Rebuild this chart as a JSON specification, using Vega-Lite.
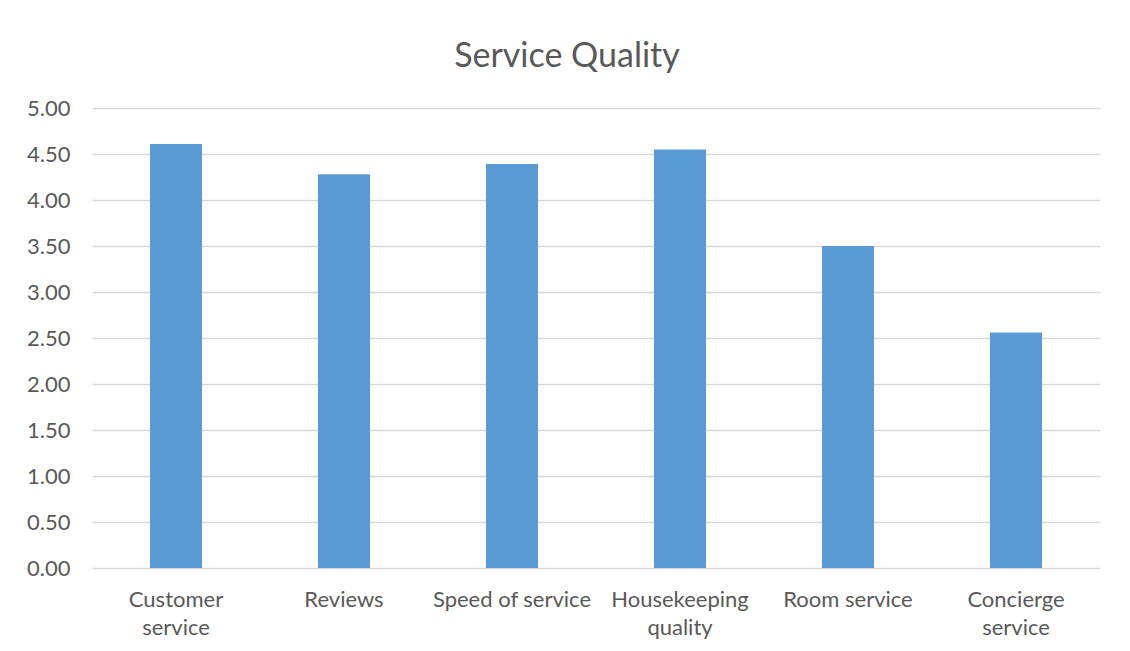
{
  "$schema": "https://vega.github.io/schema/vega-lite/v6.json",
  "autosize": {"type": "none"},
  "padding": {"left": 92, "top": 108, "right": 30, "bottom": 83},
  "width": 1008,
  "height": 460,
  "background": "white",
  "title": {
    "text": "Service Quality",
    "font": "Lato",
    "fontSize": 34,
    "fontWeight": "normal",
    "color": "#595959",
    "anchor": "middle",
    "baseline": "top",
    "offset": 23,
    "dx": -29
  },
  "data": {
    "values": [
      {"category": "Customer service", "score": 4.61},
      {"category": "Reviews", "score": 4.28},
      {"category": "Speed of service", "score": 4.39},
      {"category": "Housekeeping quality", "score": 4.55},
      {"category": "Room service", "score": 3.50},
      {"category": "Concierge service", "score": 2.56}
    ]
  },
  "mark": {"type": "bar", "color": "#5b9bd5"},
  "encoding": {
    "x": {
      "field": "category",
      "type": "nominal",
      "sort": null,
      "scale": {"paddingInner": 0.69, "paddingOuter": 0.345},
      "axis": {
        "title": null,
        "labelAngle": 0,
        "domain": false,
        "ticks": false,
        "labelFont": "Lato",
        "labelFontSize": 22,
        "labelColor": "#595959",
        "labelPadding": 21,
        "labelLineHeight": 28,
        "labelBaseline": "top",
        "labelExpr": "datum.value == 'Customer service' ? ['Customer', 'service'] : datum.value == 'Housekeeping quality' ? ['Housekeeping', 'quality'] : datum.value == 'Concierge service' ? ['Concierge', 'service'] : datum.value"
      }
    },
    "y": {
      "field": "score",
      "type": "quantitative",
      "scale": {"domain": [0, 5], "nice": false},
      "axis": {
        "title": null,
        "values": [0, 0.5, 1, 1.5, 2, 2.5, 3, 3.5, 4, 4.5, 5],
        "format": ".2f",
        "domain": false,
        "ticks": false,
        "grid": true,
        "gridColor": "#d9d9d9",
        "gridWidth": 1.5,
        "labelFont": "Lato",
        "labelFontSize": 22,
        "labelColor": "#595959",
        "labelPadding": 22
      }
    }
  },
  "config": {"view": {"stroke": null}}
}
